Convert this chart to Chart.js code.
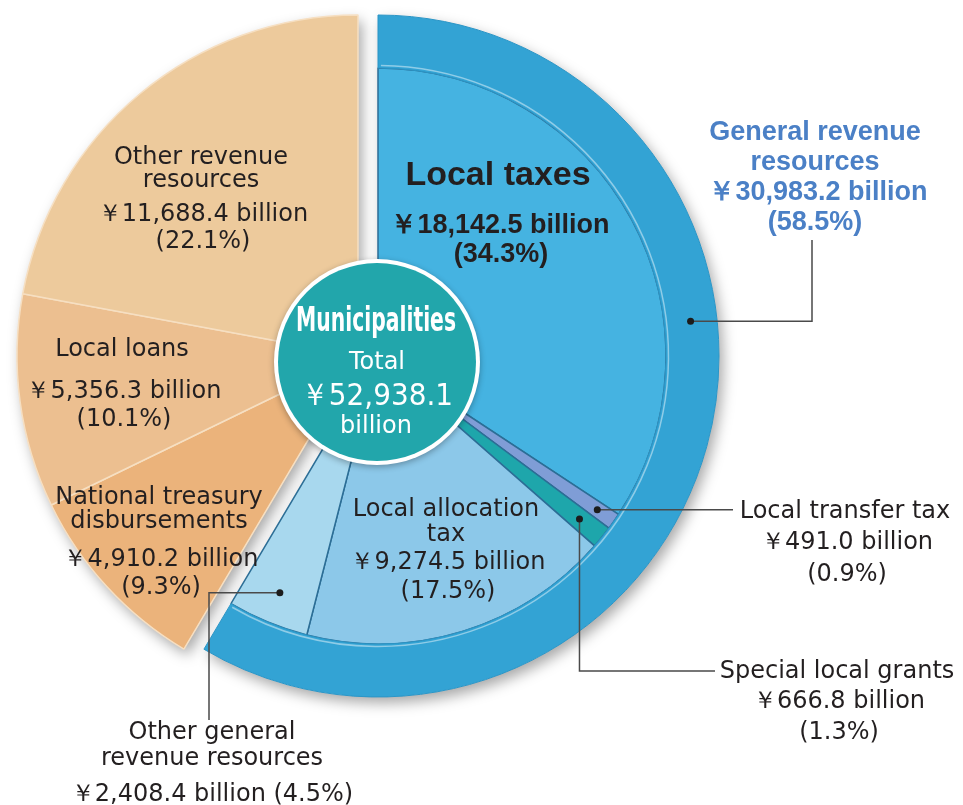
<!DOCTYPE html>
<html>
<head>
<meta charset="utf-8">
<title>Municipalities revenue</title>
<script src="https://cdn.jsdelivr.net/npm/chart.js@4.4.1/dist/chart.umd.min.js"></script>
<style>
  html, body { margin: 0; padding: 0; background: #fff; }
  #wrap { width: 963px; height: 805px; position: relative; }
</style>
</head>
<body>
<div id="wrap"><canvas id="revChart"></canvas></div>
<script>
// revenue items, billion yen
const categories = [
  ['Local taxes'],
  ['Local transfer tax'],
  ['Special local grants'],
  ['Local allocation', 'tax'],
  ['Other general', 'revenue resources'],
  ['National treasury', 'disbursements'],
  ['Local loans'],
  ['Other revenue', 'resources']
];
const amounts = [18142.5, 491.0, 666.8, 9274.5, 2408.4, 4910.2, 5356.3, 11688.4];
const shares = [34.3, 0.9, 1.3, 17.5, 4.5, 9.3, 10.1, 22.1];

// the outer ring
const groups = [['General revenue', 'resources'], ['Other']];
const groupAmounts = [30983.2, 21954.9];
const groupShares = [58.5, 41.5];

const totalName = 'Municipalities';
const totalAmount = 52938.1;

const sliceColors = ['#45b3e1', '#7f9dd6', '#1ea6ab', '#8cc8e9', '#a8d8ee', '#ebb37b', '#ecbf90', '#edca9c'];
const sliceBorders = ['#2c6e96', '#2c6e96', '#2c6e96', '#2c6e96', '#2c6e96', '#f6dfc2', '#f6dfc2', '#f6dfc2'];
const ringColors = ['#33a3d4', 'rgba(0,0,0,0)'];

const SHIFT = 10;
const TEXT = '#231f20';
const REG = '"DejaVu Sans", sans-serif';
const BOLD = '"Liberation Sans", Arial, sans-serif';

const yen = v => '\uFFE5' + v.toLocaleString('en-US', {minimumFractionDigits: 1, maximumFractionDigits: 1});
const pct = v => '(' + v.toFixed(1) + '%)';

// where each label sits: x centre, y of each name line, amount line, percent line
const labelSpots = [
  {x: 498, name: [176], amt: 226, pct: 255, big: true},
  {x: 845, name: [512], amt: 543, pct: 575},
  {x: 837, name: [672], amt: 702, pct: 733},
  {x: 446, name: [510, 535], amt: 563, pct: 592},
  {x: 212, name: [733, 759], amt: 795, pct: null},
  {x: 159, name: [498, 522], amt: 560, pct: 588},
  {x: 122, name: [350], amt: 392, pct: 420},
  {x: 201, name: [158, 181], amt: 215, pct: 242}
];

function sector(ctx, x, y, r, a0, a1) {
  ctx.beginPath();
  ctx.moveTo(x, y);
  ctx.arc(x, y, r, a0, a1);
  ctx.closePath();
  ctx.fill();
}

function arcPoint(arc, frac, rFrac) {
  const a = arc.startAngle + (arc.endAngle - arc.startAngle) * frac;
  const r = arc.innerRadius + (arc.outerRadius - arc.innerRadius) * rFrac;
  return {x: arc.x + r * Math.cos(a), y: arc.y + r * Math.sin(a)};
}

function leader(ctx, pts) {
  ctx.beginPath();
  ctx.moveTo(pts[0].x, pts[0].y);
  for (let i = 1; i < pts.length; i++) ctx.lineTo(pts[i].x, pts[i].y);
  ctx.stroke();
  ctx.beginPath();
  ctx.arc(pts[0].x, pts[0].y, 3.5, 0, Math.PI * 2);
  ctx.fill();
}

const explodePlugin = {
  id: 'explode',
  afterDatasetsUpdate(chart) {
    const ring = chart.getDatasetMeta(0).data;
    const pie = chart.getDatasetMeta(1).data;
    ring[0].x += SHIFT;
    ring[1].x -= SHIFT;
    pie.forEach((arc, i) => {
      if (i < 5) {
        arc.x += SHIFT;
      } else {
        arc.x -= SHIFT;
        arc.outerRadius = ring[0].outerRadius;
      }
    });
  },
  beforeDatasetsDraw(chart) {
    const ctx = chart.ctx;
    const ring = chart.getDatasetMeta(0).data[0];
    const pie = chart.getDatasetMeta(1).data;
    ctx.save();
    ctx.shadowColor = 'rgba(0,0,0,0.35)';
    ctx.shadowBlur = 14;
    ctx.shadowOffsetX = 4;
    ctx.shadowOffsetY = 6;
    ctx.fillStyle = '#ffffff';
    sector(ctx, ring.x, ring.y, ring.outerRadius, ring.startAngle, ring.endAngle);
    sector(ctx, pie[5].x, pie[5].y, pie[5].outerRadius, pie[5].startAngle, pie[7].endAngle);
    ctx.restore();
  },
  afterDatasetsDraw(chart) {
    const ctx = chart.ctx;
    const ring = chart.getDatasetMeta(0).data[0];
    const pie = chart.getDatasetMeta(1).data;

    // highlight just outside the inner pie
    ctx.save();
    ctx.strokeStyle = 'rgba(255,255,255,0.45)';
    ctx.lineWidth = 1.5;
    ctx.beginPath();
    ctx.arc(ring.x, ring.y, ring.innerRadius + 2.5, ring.startAngle + 0.01, ring.endAngle - 0.01);
    ctx.stroke();
    ctx.restore();

    // centre disc
    const cx = pie[0].x - 1, cy = pie[0].y + 6;
    ctx.save();
    ctx.shadowColor = 'rgba(0,0,0,0.3)';
    ctx.shadowBlur = 6;
    ctx.shadowOffsetY = 2;
    ctx.fillStyle = '#ffffff';
    ctx.beginPath();
    ctx.arc(cx, cy, 103, 0, Math.PI * 2);
    ctx.fill();
    ctx.restore();
    ctx.fillStyle = '#22a6ab';
    ctx.beginPath();
    ctx.arc(cx, cy, 99, 0, Math.PI * 2);
    ctx.fill();

    ctx.save();
    ctx.textAlign = 'center';
    ctx.textBaseline = 'middle';
    ctx.fillStyle = '#ffffff';
    ctx.font = 'bold 33px "Liberation Sans Narrow", "DejaVu Sans Condensed", ' + BOLD;
    ctx.fillText(totalName, cx - 1, cy - 40, 160);
    ctx.font = '24px ' + REG;
    ctx.fillText('Total', cx, cy + 1);
    ctx.font = '31px ' + REG;
    ctx.fillText(yen(totalAmount), cx, cy + 35, 152);
    ctx.font = '24px ' + REG;
    ctx.fillText('billion', cx - 1, cy + 65);
    ctx.restore();

    // leader lines
    ctx.save();
    ctx.strokeStyle = '#4a4a4a';
    ctx.fillStyle = '#1c1c1c';
    ctx.lineWidth = 1.5;
    const g = arcPoint(ring, 0.397, 0.5);
    leader(ctx, [g, {x: 812, y: g.y}, {x: 812, y: 240}]);
    const t = arcPoint(pie[1], 0.5, 0.93);
    leader(ctx, [t, {x: 733, y: t.y}]);
    const s = arcPoint(pie[2], 0.5, 0.9);
    leader(ctx, [s, {x: s.x, y: 671}, {x: 715, y: 671}]);
    const o = arcPoint(pie[4], 0.5, 0.89);
    leader(ctx, [o, {x: 209, y: o.y}, {x: 209, y: 720}]);
    ctx.restore();

    // labels
    ctx.save();
    ctx.textAlign = 'center';
    ctx.textBaseline = 'middle';
    ctx.fillStyle = TEXT;
    labelSpots.forEach((spot, i) => {
      const lines = categories[i];
      if (spot.big) {
        ctx.font = 'bold 34px ' + BOLD;
        ctx.fillText(lines[0], spot.x, spot.name[0]);
        ctx.font = 'bold 27px ' + BOLD;
        ctx.fillText(yen(amounts[i]) + ' billion', spot.x + 2, spot.amt);
        ctx.fillText(pct(shares[i]), spot.x + 3, spot.pct);
        return;
      }
      ctx.font = '24px ' + REG;
      lines.forEach((ln, k) => ctx.fillText(ln, spot.x, spot.name[k]));
      if (spot.pct === null) {
        ctx.fillText(yen(amounts[i]) + ' billion ' + pct(shares[i]), spot.x, spot.amt);
      } else {
        ctx.fillText(yen(amounts[i]) + ' billion', spot.x + 2, spot.amt);
        ctx.fillText(pct(shares[i]), spot.x + 2, spot.pct);
      }
    });

    // outer ring label
    ctx.fillStyle = '#4b80c6';
    ctx.font = 'bold 27px ' + BOLD;
    ctx.fillText(groups[0][0], 815, 133);
    ctx.fillText(groups[0][1], 815, 163);
    ctx.fillText(yen(groupAmounts[0]) + ' billion', 818, 193);
    ctx.fillText(pct(groupShares[0]), 815, 223);
    ctx.restore();
  }
};

new Chart(document.getElementById('revChart'), {
  type: 'pie',
  data: {
    labels: categories,
    datasets: [
      {
        label: 'Revenue group',
        data: groupAmounts,
        backgroundColor: ringColors,
        borderColor: ['#2b95c6', 'rgba(0,0,0,0)'],
        borderWidth: [1, 0],
        weight: 53
      },
      {
        label: 'Revenue item',
        data: amounts,
        backgroundColor: sliceColors,
        borderColor: sliceBorders,
        borderWidth: 1.5,
        weight: 288
      }
    ]
  },
  options: {
    responsive: true,
    maintainAspectRatio: false,
    animation: false,
    events: [],
    radius: 341,
    hoverOffset: 0,
    layout: { padding: { left: 0, right: 227, top: 0, bottom: 93 } },
    plugins: {
      legend: { display: false },
      tooltip: { enabled: false }
    }
  },
  plugins: [explodePlugin]
});
</script>
</body>
</html>
